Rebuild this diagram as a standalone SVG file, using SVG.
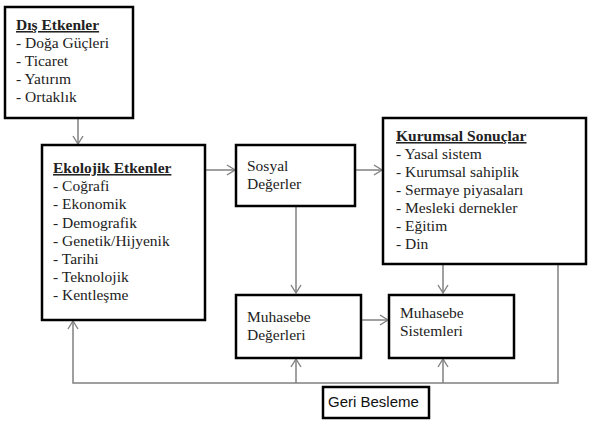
<svg xmlns="http://www.w3.org/2000/svg" width="590" height="423" viewBox="0 0 590 423">
<defs>
<style>
.box{fill:#fff;stroke:#000;stroke-width:2.5}
.t{font-family:"Liberation Serif","Times New Roman",serif;font-size:15.5px;fill:#222}
.h{font-family:"Liberation Serif","Times New Roman",serif;font-size:15.5px;font-weight:bold;fill:#222;text-decoration:underline}
.s{font-family:"Liberation Sans",Arial,sans-serif;font-size:15px;fill:#111}
.c{fill:none;stroke:#808080;stroke-width:1.5}
</style>
<marker id="ah" markerWidth="12" markerHeight="12" refX="9" refY="6" orient="auto" markerUnits="userSpaceOnUse">
<path d="M1,1 L9,6 L1,11" fill="none" stroke="#808080" stroke-width="1.4"/>
</marker>
</defs>
<rect width="590" height="423" fill="#fff"/>
<g id="connectors">
<line class="c" x1="78" y1="118" x2="78" y2="144" marker-end="url(#ah)"/>
<line class="c" x1="205" y1="170" x2="235" y2="170" marker-end="url(#ah)"/>
<line class="c" x1="355" y1="170" x2="382" y2="170" marker-end="url(#ah)"/>
<line class="c" x1="296" y1="206" x2="296" y2="293" marker-end="url(#ah)"/>
<line class="c" x1="443" y1="264" x2="443" y2="293" marker-end="url(#ah)"/>
<line class="c" x1="361" y1="320" x2="388" y2="320" marker-end="url(#ah)"/>
<polyline class="c" points="558,264 558,383 73,383 73,321" marker-end="url(#ah)"/>
<line class="c" x1="296" y1="383" x2="296" y2="359" marker-end="url(#ah)"/>
<line class="c" x1="443" y1="383" x2="443" y2="359" marker-end="url(#ah)"/>
</g>
<g id="dis-etkenler">
<rect class="box" x="5" y="7" width="128" height="111"/>
<text class="h" x="16" y="30">Dış Etkenler</text>
<text class="t" x="16" y="48">- Doğa Güçleri</text>
<text class="t" x="16" y="66">- Ticaret</text>
<text class="t" x="16" y="84">- Yatırım</text>
<text class="t" x="16" y="102">- Ortaklık</text>
</g>
<g id="ekolojik-etkenler">
<rect class="box" x="42" y="145" width="163" height="175"/>
<text class="h" x="53" y="173">Ekolojik Etkenler</text>
<text class="t" x="53" y="191">- Coğrafi</text>
<text class="t" x="53" y="209">- Ekonomik</text>
<text class="t" x="53" y="228">- Demografik</text>
<text class="t" x="53" y="246">- Genetik/Hijyenik</text>
<text class="t" x="53" y="264">- Tarihi</text>
<text class="t" x="53" y="282">- Teknolojik</text>
<text class="t" x="53" y="300">- Kentleşme</text>
</g>
<g id="sosyal-degerler">
<rect class="box" x="236" y="145" width="119" height="61"/>
<text class="t" x="247" y="171">Sosyal</text>
<text class="t" x="247" y="189">Değerler</text>
</g>
<g id="kurumsal-sonuclar">
<rect class="box" x="383" y="118" width="203" height="146"/>
<text class="h" x="396" y="141">Kurumsal Sonuçlar</text>
<text class="t" x="396" y="159">- Yasal sistem</text>
<text class="t" x="396" y="177">- Kurumsal sahiplik</text>
<text class="t" x="396" y="195">- Sermaye piyasaları</text>
<text class="t" x="396" y="213">- Mesleki dernekler</text>
<text class="t" x="396" y="231">- Eğitim</text>
<text class="t" x="396" y="249">- Din</text>
</g>
<g id="muhasebe-degerleri">
<rect class="box" x="236" y="295" width="125" height="63"/>
<text class="t" x="247" y="322">Muhasebe</text>
<text class="t" x="247" y="340">Değerleri</text>
</g>
<g id="muhasebe-sistemleri">
<rect class="box" x="389" y="295" width="125" height="63"/>
<text class="t" x="400" y="318">Muhasebe</text>
<text class="t" x="400" y="336">Sistemleri</text>
</g>
<g id="geri-besleme">
<rect class="box" x="323" y="387" width="106" height="31"/>
<text class="s" x="328" y="407">Geri Besleme</text>
</g>
</svg>
